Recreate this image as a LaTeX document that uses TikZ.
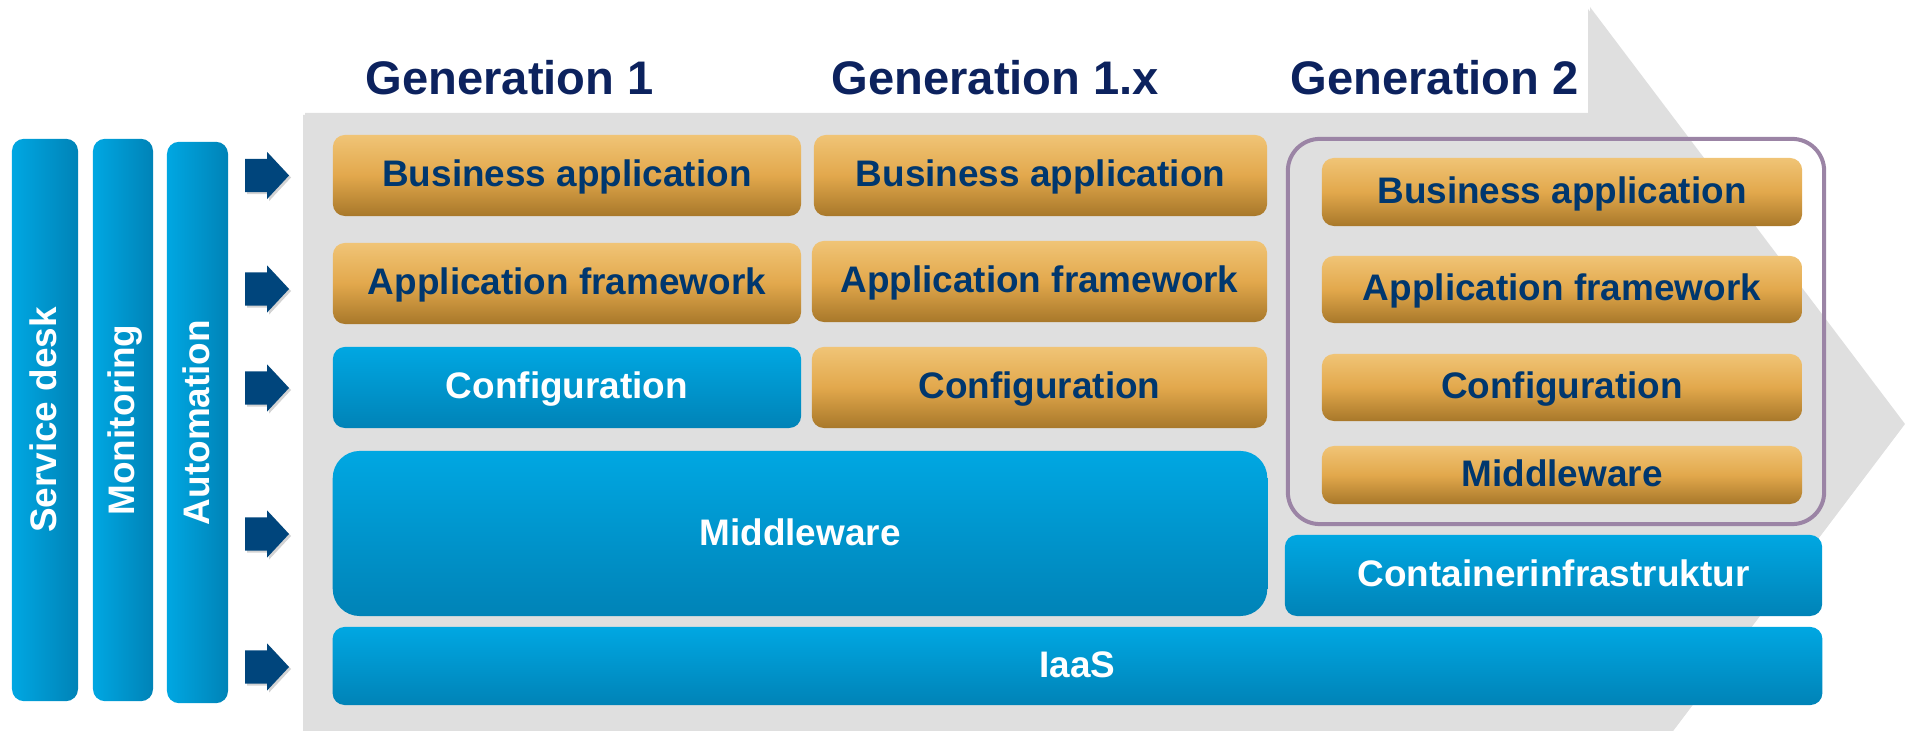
\documentclass[tikz,border=0pt]{standalone}
\usepackage{fontspec}
\setmainfont{Liberation Sans}
\usepackage{xcolor}
\usetikzlibrary{shapes.arrows,shadows}

\definecolor{bgGray}{RGB}{223,223,223}
\definecolor{blTop}{RGB}{0,167,226}
\definecolor{blBot}{RGB}{0,131,183}
\definecolor{orTop}{RGB}{240,196,118}
\definecolor{orMid}{RGB}{226,168,76}
\definecolor{orBot}{RGB}{168,120,42}
\definecolor{txtNavy}{RGB}{0,55,110}
\definecolor{headNavy}{RGB}{12,34,94}
\definecolor{arrBlue}{RGB}{0,69,124}
\definecolor{frameCol}{RGB}{155,132,165}

\begin{document}
\begin{tikzpicture}[x=0.01cm, y=-0.01cm,
  every node/.style={font=\fontsize{10.5}{12}\selectfont\bfseries, inner sep=0pt, text height=0.23cm, text depth=0pt},
  orbox/.style={rounded corners=0.12cm, top color=orTop, bottom color=orBot, middle color=orMid, text=txtNavy},
  bluebox/.style={rounded corners=0.12cm, top color=blTop, bottom color=blBot, text=white},
  sidebar/.style={rounded corners=0.12cm, left color=blTop, right color=blBot, minimum width=0.62cm},
  sidetext/.style={rotate=90, text=white},
  pointer/.style={single arrow, fill=arrBlue, minimum width=0.47cm, minimum height=0.44cm,
    single arrow head extend=0.05cm, single arrow tip angle=94, anchor=tip,
    drop shadow={opacity=0.35, shadow xshift=0.02cm, shadow yshift=-0.02cm}},
  heading/.style={font=\fontsize{13.4}{16}\selectfont\bfseries, text=headNavy, anchor=base west}]

  \useasboundingbox (0,0) rectangle (1905,731);

  % grey arrow behind the layers
  \begin{scope}
    \clip (0,0) rectangle (1905,731);
    \fill[bgGray, drop shadow={opacity=0.25, shadow xshift=-0.02cm, shadow yshift=-0.02cm}]
      (305,113) -- (1590,113) -- (1590,7) -- (1905,424) -- (1590,841) -- (1590,729) -- (305,729) -- cycle;
  \end{scope}

  \draw (365,95)  node (01) [heading] {Generation 1};
  \draw (831,95)  node (02) [heading] {Generation 1.x};
  \draw (1290,95) node (03) [heading] {Generation 2};

  \draw (45,420)      node (s1) [sidebar, minimum width=0.66cm, minimum height=5.62cm] {};
  \draw (s1.center)   node (s1t) [sidetext] {Service desk};
  \draw (123,420)     node (s2) [sidebar, minimum width=0.60cm, minimum height=5.62cm] {};
  \draw (s2.center)   node (s2t) [sidetext] {Monitoring};
  \draw (197.5,422.5) node (s3) [sidebar, minimum width=0.61cm, minimum height=5.61cm] {};
  \draw (s3.center)   node (s3t) [sidetext] {Automation};

  \draw (290,175.5) node (a1) [pointer] {};
  \draw (290,289)   node (a2) [pointer] {};
  \draw (290,388)   node (a3) [pointer] {};
  \draw (290,534)   node (a4) [pointer] {};
  \draw (290,667)   node (a5) [pointer] {};

  \draw (567,175.5)  node (11) [orbox, minimum width=4.68cm, minimum height=0.81cm] {Business application};
  \draw (1040.5,175.5) node (12) [orbox, minimum width=4.53cm, minimum height=0.81cm] {Business application};
  \draw (1562,192)   node (13) [orbox, minimum width=4.80cm, minimum height=0.68cm] {Business application};

  \draw (567,283.5)  node (21) [orbox, minimum width=4.68cm, minimum height=0.81cm] {Application framework};
  \draw (1039.5,281.5) node (22) [orbox, minimum width=4.55cm, minimum height=0.81cm] {Application framework};
  \draw (1562,289.5) node (23) [orbox, minimum width=4.80cm, minimum height=0.67cm] {Application framework};

  \draw (567,387.5)  node (31) [bluebox, minimum width=4.68cm, minimum height=0.81cm] {Configuration};
  \draw (1039.5,387.5) node (32) [orbox, minimum width=4.55cm, minimum height=0.81cm] {Configuration};
  \draw (1562,387.5) node (33) [orbox, minimum width=4.80cm, minimum height=0.67cm] {Configuration};

  \draw (800,533.5)  node (41) [bluebox, rounded corners=0.27cm, minimum width=9.34cm, minimum height=1.65cm] {Middleware};
  \draw (1562,475)   node (43) [orbox, minimum width=4.80cm, minimum height=0.58cm] {Middleware};

  \draw (1556,331.5) node (f3) [draw=frameCol, line width=0.04cm, rounded corners=0.32cm, minimum width=5.36cm, minimum height=3.85cm] {};

  \draw (1553.5,575.5) node (53) [bluebox, minimum width=5.37cm, minimum height=0.81cm] {Containerinfrastruktur};
  \draw (1077.5,666)   node (61) [bluebox, minimum width=14.89cm, minimum height=0.78cm] {IaaS};

\end{tikzpicture}
\end{document}
